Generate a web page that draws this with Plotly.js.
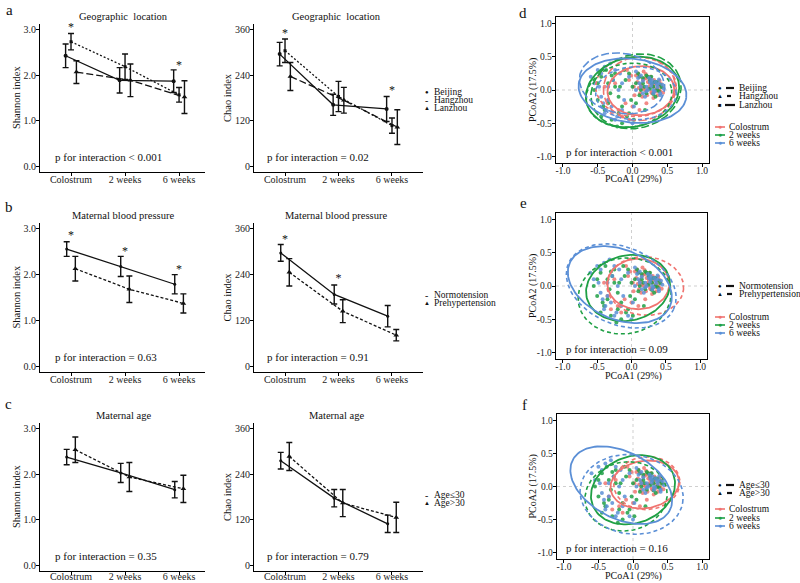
<!DOCTYPE html>
<html><head><meta charset="utf-8">
<script src="https://cdn.plot.ly/plotly-3.0.1.min.js"></script>
<style>html,body{margin:0;padding:0;background:#fff}#chart{width:800px;height:583px}</style>
</head><body><div id="chart"></div>
<script>
// ---------------- DATA ----------------
const timeLabels = ['Colostrum', '2 weeks', '6 weeks'];

// a: Geographic location
const locNames = ['Beijing', 'Hangzhou', 'Lanzhou'];
const shanBeijing = [2.43, 1.89, 1.87], shanBeijingErr = [0.26, 0.28, 0.25];
const shanHangzhou = [2.74, 2.19, 1.57], shanHangzhouErr = [0.18, 0.28, 0.16];
const shanLanzhou = [2.07, 1.89, 1.52], shanLanzhouErr = [0.25, 0.36, 0.36];
const shanLocStars = [3.04, null, 2.21];
const chaoBeijing = [296, 162, 151], chaoBeijingErr = [31, 28, 33];
const chaoHangzhou = [305, 184, 107], chaoHangzhouErr = [31, 40, 20];
const chaoLanzhou = [237, 174, 103], chaoLanzhouErr = [37, 34, 46];
const chaoLocStars = [349, null, 198];

// b: Maternal blood pressure
const bpNames = ['Normotension', 'Prehypertension'];
const shanNormo = [2.56, 2.18, 1.79], shanNormoErr = [0.16, 0.22, 0.21];
const shanPrehyp = [2.13, 1.68, 1.37], shanPrehypErr = [0.27, 0.29, 0.21];
const shanBpStars = [2.85, 2.49, 2.11];
const chaoNormo = [297, 188, 131], chaoNormoErr = [22, 25, 28];
const chaoPrehyp = [246, 144, 81], chaoPrehypErr = [36, 30, 15];
const chaoBpStars = [332, 229, null];

// c: Maternal age
const ageNames = ['Age\u226430', 'Age>30'];
const shanYoung = [2.38, 2.03, 1.66], shanYoungErr = [0.17, 0.21, 0.18];
const shanOld = [2.54, 1.94, 1.68], shanOldErr = [0.28, 0.32, 0.30];
const chaoYoung = [276, 177, 109], chaoYoungErr = [22, 23, 23];
const chaoOld = [287, 164, 126], chaoOldErr = [37, 36, 40];

// PCoA sample coordinates (shared by d, e, f)
const colX = [0.05,0.10,0.15,0.20,0.25,0.30,0.35,0.40,0.12,0.18,0.22,0.28,0.33,0.38,0.08,0.14,0.26,0.31,0.02,-0.05,-0.10,-0.20,-0.30,-0.25,-0.15,0.00,0.42,0.36,0.24,0.16,-0.35,-0.40,0.10,0.20,-0.08,0.30,
  0.07,0.13,0.19,0.23,0.27,0.32,0.37,0.41,0.11,0.17,0.29,0.34,0.21,0.15,0.39,0.03,-0.02,0.25,0.44,0.09];
const colY = [0.22,0.20,0.15,0.18,0.10,0.05,0.02,-0.02,0.08,0.00,0.12,-0.05,0.10,0.00,0.25,-0.10,0.20,0.15,0.05,0.15,-0.20,-0.30,-0.35,0.10,-0.40,-0.25,0.05,-0.08,0.05,0.28,-0.15,0.05,-0.30,-0.20,0.30,-0.12,
  0.12,0.05,0.24,0.02,-0.03,0.12,0.06,0.09,-0.05,0.17,0.08,-0.02,-0.08,0.02,0.14,-0.08,0.22,0.17,-0.04,0.03];
const w2X = [-0.55,-0.50,-0.45,-0.40,-0.35,-0.30,-0.25,-0.20,-0.15,-0.10,-0.05,0.00,0.05,0.10,0.15,0.20,0.25,0.30,0.35,0.40,-0.42,-0.32,-0.22,-0.12,-0.02,0.08,0.18,0.28,0.38,-0.28,-0.18,-0.08,0.12,0.22,0.32,-0.38,
  0.05,0.15,0.25,0.35,0.42,0.10,0.20,0.30,-0.45,-0.35,-0.25,-0.15,-0.50,-0.05,0.02,0.33,0.27,-0.30,-0.20,0.17];
const w2Y = [0.00,-0.15,0.20,-0.30,0.10,-0.45,0.25,-0.10,-0.50,0.15,-0.35,0.05,-0.20,0.20,0.10,-0.05,0.15,0.05,0.00,0.08,-0.25,-0.05,-0.55,0.30,-0.15,0.25,-0.30,0.10,-0.02,0.15,0.05,-0.40,0.00,0.20,0.12,0.30,
  0.10,0.18,0.02,0.12,0.04,-0.08,0.22,-0.06,-0.40,-0.20,0.05,-0.25,0.10,0.25,-0.45,-0.10,0.20,0.22,-0.35,0.05];
const w6X = [-0.60,-0.50,-0.45,-0.40,-0.35,-0.30,-0.28,-0.22,-0.18,-0.12,-0.05,0.00,0.05,0.10,0.15,0.20,0.25,0.30,0.35,0.40,0.45,-0.38,-0.48,-0.25,-0.15,0.08,0.18,0.28,0.38,-0.32,-0.42,0.02,0.12,0.22,0.32,0.27,
  0.12,0.20,0.28,0.36,0.43,0.15,0.24,0.33,0.40,-0.55,-0.45,-0.35,-0.25,-0.15,-0.05,0.05,0.30,0.38,-0.20,-0.40];
const w6Y = [0.20,0.30,-0.10,0.35,0.05,-0.25,0.15,-0.40,0.25,-0.15,0.20,-0.50,0.00,0.10,-0.05,0.05,0.12,0.00,0.08,-0.05,0.02,-0.30,0.05,-0.45,0.10,0.18,-0.10,0.15,0.10,0.40,-0.20,-0.25,0.22,0.00,-0.02,0.06,
  0.05,-0.02,0.10,0.04,0.08,0.14,0.18,0.12,-0.08,0.10,0.25,-0.15,0.30,-0.30,-0.45,0.28,-0.05,0.16,0.00,-0.35];

// Confidence ellipses: centre, radii, angle(deg), time group (0 col,1 2w,2 6w), line type
const ellD_cx = [0.12, 0.05, 0.10, 0.00, -0.05, 0.05, 0.00, 0.05, -0.15];
const ellD_cy = [-0.01, 0.05, 0.02, -0.03, -0.08, -0.02, -0.01, -0.05, 0.10];
const ellD_rx = [0.48, 0.58, 0.52, 0.68, 0.62, 0.66, 0.78, 0.58, 0.62];
const ellD_ry = [0.37, 0.45, 0.48, 0.52, 0.48, 0.55, 0.48, 0.40, 0.45];
const ellD_ang = [5, 0, 10, 15, 10, 20, -8, 0, -12];
const ellD_grp = [0, 0, 0, 1, 1, 1, 2, 2, 2];
const ellD_lt = ['solid', 'short', 'long', 'solid', 'short', 'long', 'solid', 'short', 'long'];

const ellE_cx = [0.10, 0.20, -0.05, -0.10, -0.17, -0.15];
const ellE_cy = [0.03, 0.00, -0.03, -0.15, 0.02, 0.00];
const ellE_rx = [0.45, 0.56, 0.62, 0.68, 0.80, 0.84];
const ellE_ry = [0.38, 0.44, 0.49, 0.57, 0.52, 0.58];
const ellE_ang = [0, -5, 15, 10, -25, -25];
const ellE_grp = [0, 0, 1, 1, 2, 2];
const ellE_lt = ['solid', 'short', 'solid', 'short', 'solid', 'short'];

const ellF_cx = [0.17, 0.20, 0.00, -0.10, -0.17, -0.02];
const ellF_cy = [0.03, 0.05, -0.05, -0.15, 0.02, -0.12];
const ellF_rx = [0.50, 0.48, 0.63, 0.60, 0.80, 0.75];
const ellF_ry = [0.36, 0.40, 0.50, 0.52, 0.50, 0.60];
const ellF_ang = [10, 5, 25, 15, -30, -10];
const ellF_grp = [0, 0, 1, 1, 2, 2];
const ellF_lt = ['solid', 'short', 'solid', 'short', 'solid', 'short'];

// ---------------- STYLE / LAYOUT ----------------
const FONT = 'Liberation Serif, Times New Roman, serif';
const INK = '#111';
const groupColors = ['#F07470', '#1FA045', '#5B8FD6'];
const dashMap = {solid: 'solid', short: '4px,3px', long: '8px,3px'};

const data = [];
const layout = {
  width: 800, height: 583, margin: {l: 0, r: 0, t: 0, b: 0},
  paper_bgcolor: '#fff', plot_bgcolor: 'rgba(0,0,0,0)', showlegend: false,
  font: {family: FONT, size: 10, color: INK},
  annotations: [], shapes: []
};
const px = x => x / 800;
const py = y => 1 - y / 583;
const rows = [{top: 24, bottom: 172, sx: -5}, {top: 223, bottom: 372, sx: -5}, {top: 423, bottom: 571, sx: -7}];
const pcoaBoxes = [{l: 556, r: 709, t: 17, b: 163, xt: 179}, {l: 556, r: 707, t: 213, b: 359, xt: 376}, {l: 557, r: 709, t: 414, b: 559, xt: 576}];

function baseAxis() {
  return {showline: true, linecolor: '#000', linewidth: 1, ticks: 'outside', ticklen: 3,
    tickcolor: '#000', tickwidth: 1, showgrid: false, zeroline: false, fixedrange: true,
    tickfont: {family: FONT, size: 10, color: '#222'}};
}
const axKey = (kind, i) => kind + (i === 1 ? '' : i);
const axRef = (kind, i) => kind + (i === 1 ? '' : i);

function ann(x, y, text, size, anchor, extra) {
  layout.annotations.push(Object.assign({xref: 'paper', yref: 'paper', x: px(x), y: py(y), text: text,
    showarrow: false, xanchor: anchor || 'center', yanchor: 'middle',
    font: {family: FONT, size: size, color: INK}}, extra || {}));
}

rows.forEach((r, ri) => {
  const yd = [py(r.bottom), py(r.top)];
  const iS = ri * 3 + 1, iC = ri * 3 + 2, iP = ri * 3 + 3;
  // Shannon
  layout[axKey('xaxis', iS)] = Object.assign(baseAxis(), {domain: [px(40), px(205)], anchor: axRef('y', iS),
    range: [-0.574, 2.48], tickvals: [0, 1, 2], ticktext: timeLabels, ticklabelstandoff: r.sx});
  layout[axKey('yaxis', iS)] = Object.assign(baseAxis(), {domain: yd, anchor: axRef('x', iS),
    range: [-0.13, 3.13], tickvals: [0, 1, 2, 3], ticktext: ['0.0', '1.0', '2.0', '3.0'], ticklabelstandoff: -2});
  ann(16, (r.top + r.bottom) / 2, 'Shannon index', 10.5, 'center', {textangle: -90});
  // Chao
  layout[axKey('xaxis', iC)] = Object.assign(baseAxis(), {domain: [px(254), px(423)], anchor: axRef('y', iC),
    range: [-0.58, 2.58], tickvals: [0, 1, 2], ticktext: timeLabels, ticklabelstandoff: r.sx});
  layout[axKey('yaxis', iC)] = Object.assign(baseAxis(), {domain: yd, anchor: axRef('x', iC),
    range: [-15.6, 375.6], tickvals: [0, 120, 240, 360], ticklabelstandoff: -2});
  ann(227, (r.top + r.bottom) / 2, 'Chao index', 10.5, 'center', {textangle: -90});
  // PCoA
  const b = pcoaBoxes[ri];
  const pAx = {range: [-1.1, 1.1], tickvals: [-1, -0.5, 0, 0.5, 1], ticktext: ['-1.0', '-0.5', '0.0', '0.5', '1.0'],
    mirror: true, linewidth: 1.3, tickfont: {family: FONT, size: 9.5, color: '#222'}};
  layout[axKey('xaxis', iP)] = Object.assign(baseAxis(), pAx, {domain: [px(b.l), px(b.r)], anchor: axRef('y', iP), ticklabelstandoff: -5});
  layout[axKey('yaxis', iP)] = Object.assign(baseAxis(), pAx, {domain: [py(b.b), py(b.t)], anchor: axRef('x', iP), ticklabelstandoff: -2});
  ann(633, b.xt, 'PCoA1 (29%)', 10);
  ann(533, (b.t + b.b) / 2, 'PCoA2 (17.5%)', 10, 'center', {textangle: -90});
  // dotted zero lines
  layout.shapes.push({type: 'line', xref: axRef('x', iP), yref: axRef('y', iP), x0: 0, x1: 0, y0: -1.1, y1: 1.1, line: {color: '#cfcfcf', width: 1, dash: 'dot'}, layer: 'below'});
  layout.shapes.push({type: 'line', xref: axRef('x', iP), yref: axRef('y', iP), y0: 0, y1: 0, x0: -1.1, x1: 1.1, line: {color: '#cfcfcf', width: 1, dash: 'dot'}, layer: 'below'});
});

function addSeries(i, vals, errs, off, dash, symbol, msize) {
  data.push({type: 'scatter', mode: 'lines+markers', x: [0, 1, 2].map(k => k + off), y: vals,
    xaxis: axRef('x', i), yaxis: axRef('y', i), cliponaxis: false,
    line: {color: INK, width: 1.3, dash: dash},
    marker: {symbol: symbol, size: msize, color: INK},
    error_y: {type: 'data', array: errs, visible: true, color: INK, thickness: 1.4, width: 3}});
}
function addStars(i, ys, off) {
  data.push({type: 'scatter', mode: 'text', x: [0, 1, 2].map(k => k + off), y: ys,
    text: ys.map(v => v == null ? '' : '*'), textposition: 'middle center', cliponaxis: false,
    textfont: {family: FONT, size: 12, color: INK}, xaxis: axRef('x', i), yaxis: axRef('y', i)});
}

// Row a
addSeries(1, shanBeijing, shanBeijingErr, -0.1, 'solid', 'circle', 4);
addSeries(1, shanHangzhou, shanHangzhouErr, 0, '2px,2px', 'square', 3);
addSeries(1, shanLanzhou, shanLanzhouErr, 0.1, '7px,3px', 'triangle-up', 5);
addStars(1, shanLocStars, 0);
addSeries(2, chaoBeijing, chaoBeijingErr, -0.1, 'solid', 'circle', 4);
addSeries(2, chaoHangzhou, chaoHangzhouErr, 0, '2px,2px', 'square', 3);
addSeries(2, chaoLanzhou, chaoLanzhouErr, 0.1, '7px,3px', 'triangle-up', 5);
addStars(2, chaoLocStars, 0);
// Row b
addSeries(4, shanNormo, shanNormoErr, -0.08, 'solid', 'circle', 3);
addSeries(4, shanPrehyp, shanPrehypErr, 0.08, '3px,2px', 'triangle-up', 5);
addStars(4, shanBpStars, 0);
addSeries(5, chaoNormo, chaoNormoErr, -0.08, 'solid', 'circle', 3);
addSeries(5, chaoPrehyp, chaoPrehypErr, 0.08, '3px,2px', 'triangle-up', 5);
addStars(5, chaoBpStars, 0);
// Row c
addSeries(7, shanYoung, shanYoungErr, -0.08, 'solid', 'circle', 3);
addSeries(7, shanOld, shanOldErr, 0.08, '3px,2px', 'triangle-up', 5);
addSeries(8, chaoYoung, chaoYoungErr, -0.08, 'solid', 'circle', 3);
addSeries(8, chaoOld, chaoOldErr, 0.08, '3px,2px', 'triangle-up', 5);

// PCoA points and ellipses
const ptsX = [colX, w2X, w6X], ptsY = [colY, w2Y, w6Y];
function addPcoa(i, cx, cy, rx, ry, ang, grp, lt) {
  for (let g = 0; g < 3; g++) {
    data.push({type: 'scatter', mode: 'markers', x: ptsX[g], y: ptsY[g], xaxis: axRef('x', i), yaxis: axRef('y', i),
      marker: {size: 4, color: groupColors[g], opacity: 0.85, symbol: 'circle'}});
  }
  for (let k = 0; k < cx.length; k++) {
    const xs = [], ys = [], a = ang[k] * Math.PI / 180;
    for (let s = 0; s <= 120; s++) {
      const t = 2 * Math.PI * s / 120;
      xs.push(cx[k] + rx[k] * Math.cos(t) * Math.cos(a) - ry[k] * Math.sin(t) * Math.sin(a));
      ys.push(cy[k] + rx[k] * Math.cos(t) * Math.sin(a) + ry[k] * Math.sin(t) * Math.cos(a));
    }
    data.push({type: 'scatter', mode: 'lines', x: xs, y: ys, xaxis: axRef('x', i), yaxis: axRef('y', i),
      line: {color: groupColors[grp[k]], width: lt[k] === 'solid' ? 1.8 : 1.6, dash: dashMap[lt[k]]}});
  }
}
addPcoa(3, ellD_cx, ellD_cy, ellD_rx, ellD_ry, ellD_ang, ellD_grp, ellD_lt);
addPcoa(6, ellE_cx, ellE_cy, ellE_rx, ellE_ry, ellE_ang, ellE_grp, ellE_lt);
addPcoa(9, ellF_cx, ellF_cy, ellF_rx, ellF_ry, ellF_ang, ellF_grp, ellF_lt);

// ---------------- ANNOTATIONS ----------------
[['a', 9, 10], ['b', 9, 207], ['c', 8, 404], ['d', 523, 13], ['e', 523, 203], ['f', 524, 405]]
  .forEach(l => ann(l[1], l[2], l[0], 15));
const panelTitles = ['Geographic  location', 'Maternal blood pressure', 'Maternal age'];
const titleY = [16, 215, 415];
panelTitles.forEach((t, k) => { ann(123, titleY[k], t, 10.5); ann(336, titleY[k], t, 10.5); });
const pShan = ['p for interaction < 0.001', 'p for interaction = 0.63', 'p for interaction = 0.35'];
const pChao = ['p for interaction = 0.02', 'p for interaction = 0.91', 'p for interaction = 0.79'];
const pPcoa = ['p for interaction < 0.001', 'p for interaction = 0.09', 'p for interaction = 0.16'];
const pY = [157, 357, 556], pPY = [152, 349, 548];
for (let k = 0; k < 3; k++) {
  ann(53, pY[k], pShan[k], 11, 'left');
  ann(265, pY[k], pChao[k], 11, 'left');
  ann(564, pPY[k], pPcoa[k], 11, 'left');
}
// line chart legends
const lineLegends = [
  {names: locNames, glyphs: ['\u25CF', '-', '\u25B2'], ys: [92, 100, 108]},
  {names: bpNames, glyphs: ['-', '\u25B2'], ys: [295, 303]},
  {names: ageNames, glyphs: ['-', '\u25B2'], ys: [495, 503]}
];
lineLegends.forEach(L => L.names.forEach((n, k) => {
  ann(427, L.ys[k], L.glyphs[k], L.glyphs[k] === '-' ? 10 : 6);
  ann(432, L.ys[k], n, 9.5, 'left');
}));
// PCoA legends
const pcoaLegends = [
  {names: locNames, glyphs: ['\u25CF', '\u25B2', '\u25A0'], ys: [88, 96, 105], dashes: [[726, 734], [727, 731], [725, 735]], cys: [127, 135, 143]},
  {names: bpNames, glyphs: ['\u25CF', '\u25B2'], ys: [286, 294], dashes: [[726, 734], [727, 732]], cys: [317, 325, 333]},
  {names: ageNames, glyphs: ['\u25CF', '\u25B2'], ys: [485, 493], dashes: [[726, 734], [727, 732]], cys: [509, 518, 526]}
];
pcoaLegends.forEach(L => {
  L.names.forEach((n, k) => {
    ann(720, L.ys[k], L.glyphs[k], 6);
    layout.shapes.push({type: 'line', xref: 'paper', yref: 'paper', x0: px(L.dashes[k][0]), x1: px(L.dashes[k][1]),
      y0: py(L.ys[k]), y1: py(L.ys[k]), line: {color: INK, width: 2.2}});
    ann(737, L.ys[k], n, 9.5, 'left');
  });
  timeLabels.forEach((t, g) => {
    layout.shapes.push({type: 'line', xref: 'paper', yref: 'paper', x0: px(715), x1: px(725),
      y0: py(L.cys[g]), y1: py(L.cys[g]), line: {color: groupColors[g], width: 1.6}});
    ann(720, L.cys[g], '\u25CF', 7, 'center', {font: {family: FONT, size: 7, color: groupColors[g]}});
    ann(727, L.cys[g], t, 9.5, 'left');
  });
});

Plotly.newPlot('chart', data, layout, {staticPlot: true, displayModeBar: false});
</script>
</body></html>
